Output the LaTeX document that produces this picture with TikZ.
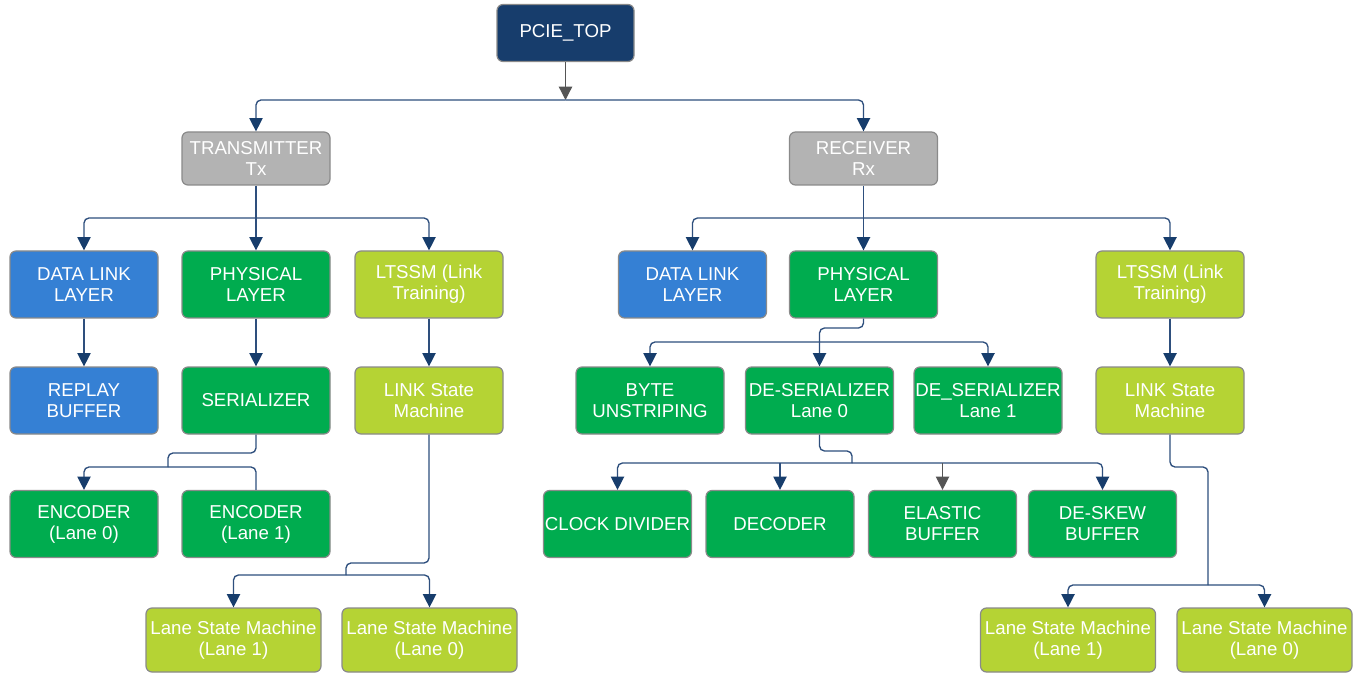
\documentclass[tikz,border=0pt]{standalone}
\usepackage{fontspec}
\setmainfont{Liberation Sans}
\usetikzlibrary{arrows.meta}

\definecolor{topnavy}{HTML}{173D6C}
\definecolor{hubgray}{HTML}{B3B3B3}
\definecolor{dllblue}{HTML}{3580D4}
\definecolor{phygreen}{HTML}{00AC4F}
\definecolor{ltslime}{HTML}{B5D334}
\definecolor{edgegray}{HTML}{8A8A8A}
\definecolor{wirecol}{HTML}{2E4F7D}
\definecolor{tipnavy}{HTML}{173D6C}
\definecolor{tipgray}{HTML}{555555}

\begin{document}
\begin{tikzpicture}[x=0.75pt,y=-0.75pt,
  blk/.style={draw=edgegray, line width=0.9pt, rounded corners=4.5pt,
    text=white, align=center, inner sep=0pt,
    minimum width=111pt, minimum height=50.25pt,
    font=\fontsize{14}{15.75}\selectfont},
  topbox/.style={blk, fill=topnavy, minimum width=102.75pt, minimum height=42.75pt},
  hubbox/.style={blk, fill=hubgray, minimum height=39.75pt},
  dllbox/.style={blk, fill=dllblue},
  phybox/.style={blk, fill=phygreen},
  ltsbox/.style={blk, fill=ltslime},
  lanebox/.style={blk, fill=ltslime, minimum width=131.25pt, minimum height=48pt},
  cable/.style={draw=wirecol, line width=1pt, rounded corners=3.75pt},
  feed/.style={cable, -{Triangle[length=10pt,width=10pt,color=tipnavy]}},
  greyfeed/.style={draw=tipgray, line width=1pt, -{Triangle[length=10pt,width=10pt,color=tipgray]}}
]
\fill[white] (0,0) rectangle (1355,673);
\useasboundingbox (0,0) rectangle (1355,673);

% ---- top level ----
\node[topbox] (top) at (565.5,33) {PCIE\_TOP};
\node[hubbox] (tx) at (256,158.5) {TRANSMITTER\\Tx};
\node[hubbox] (rx) at (863.5,158.5) {RECEIVER\\Rx};

% ---- transmitter side ----
\node[dllbox] (dll1) at (84,284.5) {DATA LINK\\LAYER};
\node[phybox] (phy1) at (256,284.5) {PHYSICAL\\LAYER};
\node[ltsbox] (lts1) at (429,284.5) {LTSSM (Link\\Training)};
\node[dllbox] (rep) at (84,400.5) {REPLAY\\BUFFER};
\node[phybox] (ser) at (256,400.5) {SERIALIZER};
\node[ltsbox] (lsm1) at (429,400.5) {LINK State\\Machine};
\node[phybox] (enc0) at (84,524) {ENCODER\\(Lane 0)};
\node[phybox] (enc1) at (256,524) {ENCODER\\(Lane 1)};
\node[lanebox] (lane1a) at (233.5,640) {Lane State Machine\\(Lane 1)};
\node[lanebox] (lane0a) at (429.5,640) {Lane State Machine\\(Lane 0)};

% ---- receiver side ----
\node[dllbox] (dll2) at (692.5,284.5) {DATA LINK\\LAYER};
\node[phybox] (phy2) at (863.5,284.5) {PHYSICAL\\LAYER};
\node[ltsbox] (lts2) at (1170,284.5) {LTSSM (Link\\Training)};
\node[phybox] (byte) at (650,400.5) {BYTE\\UNSTRIPING};
\node[phybox] (des0) at (819.5,400.5) {DE-SERIALIZER\\Lane 0};
\node[phybox] (des1) at (988,400.5) {DE\_SERIALIZER\\Lane 1};
\node[ltsbox] (lsm2) at (1170,400.5) {LINK State\\Machine};
\node[phybox] (clk) at (617.5,524) {CLOCK DIVIDER};
\node[phybox] (dec) at (780,524) {DECODER};
\node[phybox] (ela) at (942.5,524) {ELASTIC\\BUFFER};
\node[phybox] (dsk) at (1102.5,524) {DE-SKEW\\BUFFER};
\node[lanebox] (lane1b) at (1068,640) {Lane State Machine\\(Lane 1)};
\node[lanebox] (lane0b) at (1264.5,640) {Lane State Machine\\(Lane 0)};

% ---- junction points ----
\coordinate (b0) at (565.5,100);
\coordinate (t2) at (256,218);
\coordinate (r2) at (863.5,218);
\coordinate (s1) at (168,453);
\coordinate (s2) at (168,467);
\coordinate (l1) at (346,563);
\coordinate (l2) at (346,575);
\coordinate (p1) at (819.5,328);
\coordinate (p2) at (819.5,342);
\coordinate (d1) at (852,451);
\coordinate (d2) at (852,463);
\coordinate (m1) at (1208,467);
\coordinate (m2) at (1208,585);

% ---- top split ----
\draw[greyfeed] (top) -- (b0);
\draw[feed] (b0) -| (tx);
\draw[feed] (b0) -| (rx);

% ---- transmitter wiring ----
\draw[feed] (tx) -- (phy1);
\draw[feed] (t2) -| (dll1);
\draw[feed] (t2) -| (lts1);
\draw[feed] (dll1) -- (rep);
\draw[feed] (phy1) -- (ser);
\draw[feed] (lts1) -- (lsm1);
\draw[cable] (ser.south) |- (s1) -- (s2);
\draw[feed] (s2) -| (enc0);
\draw[cable] (s2) -| (enc1.north);
\draw[cable] (lsm1.south) |- (l1) -- (l2);
\draw[feed] (l2) -| (lane1a);
\draw[feed] (l2) -| (lane0a);

% ---- receiver wiring ----
\draw[feed] (rx) -- (phy2);
\draw[feed] (r2) -| (dll2);
\draw[feed] (r2) -| (lts2);
\draw[feed] (phy2.south) |- (p1) -- (des0);
\draw[feed] (p2) -| (byte);
\draw[feed] (p2) -| (des1);
\draw[feed] (lts2) -- (lsm2);
\draw[cable] (des0.south) |- (d1) -- (d2);
\draw[feed] (d2) -| (clk);
\draw[feed] (d2) -| (dsk);
\draw[feed] (dec |- d2) -- (dec);
\draw[greyfeed] (ela |- d2) -- (ela);
\draw[cable] (lsm2.south) |- (m1) -- (m2);
\draw[feed] (m2) -| (lane1b);
\draw[feed] (m2) -| (lane0b);
\end{tikzpicture}
\end{document}
